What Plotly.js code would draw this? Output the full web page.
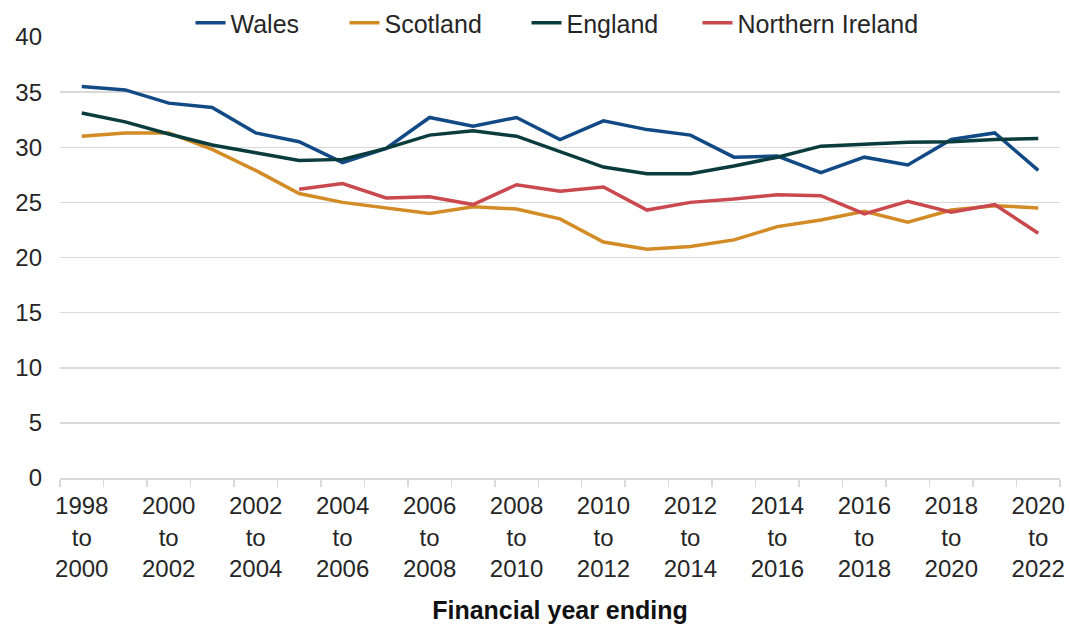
<!DOCTYPE html>
<html>
<head>
<meta charset="utf-8">
<script src="https://cdn.plot.ly/plotly-3.0.1.min.js"></script>
<style>
  html, body { margin: 0; padding: 0; background: #ffffff; }
  #chart { width: 1070px; height: 628px; }
</style>
</head>
<body>
<div id="chart"></div>
<script>
// Categories: financial year periods (start year, end year)
const startYears = [1998,1999,2000,2001,2002,2003,2004,2005,2006,2007,2008,2009,2010,2011,2012,2013,2014,2015,2016,2017,2018,2019,2020];
const endYears   = [2000,2001,2002,2003,2004,2005,2006,2007,2008,2009,2010,2011,2012,2013,2014,2015,2016,2017,2018,2019,2020,2021,2022];

const wales   = [35.5,35.2,34.0,33.6,31.3,30.5,28.6,29.9,32.7,31.9,32.7,30.7,32.4,31.6,31.1,29.1,29.2,27.7,29.1,28.4,30.7,31.3,27.9];
const scotland= [31.0,31.3,31.3,29.8,27.9,25.8,25.0,24.5,24.0,24.6,24.4,23.5,21.4,20.75,21.0,21.6,22.8,23.4,24.2,23.2,24.3,24.7,24.5];
const england = [33.1,32.3,31.2,30.2,29.5,28.8,28.9,29.9,31.1,31.5,31.0,29.6,28.2,27.6,27.6,28.3,29.1,30.1,30.3,30.45,30.5,30.7,30.8];
const nIreland= [null,null,null,null,null,26.2,26.7,25.4,25.5,24.8,26.6,26.0,26.4,24.3,25.0,25.3,25.7,25.6,23.95,25.1,24.1,24.8,22.2];

const seriesNames  = ["Wales","Scotland","England","Northern Ireland"];
const seriesValues = [wales, scotland, england, nIreland];
const seriesColors = ["#124a85","#d38b26","#0b3c3d","#c9494f"];

const xIdx = startYears.map((_, i) => i);
const tickIdx = xIdx.filter(i => i % 2 === 0);
const tickText = tickIdx.map(i => startYears[i] + "<br>to<br>" + endYears[i]);
const boundaries = xIdx.map(i => i - 0.5).concat([xIdx.length - 0.5]);

const legendIds = ["legend","legend2","legend3","legend4"];
const legendX   = [0.1305, 0.2845, 0.4665, 0.6375];

const font = "Liberation Sans, Arial, sans-serif";
const textColor = "#262626";

// Paper area spans from the top of the figure to the x axis; the plot (y axis)
// occupies the lower part of it, leaving a band for the legend row above.
const W = 1070, H = 628;
const marginB = 150, plotTopPx = 37;
const paperH = H - marginB;
const yDomainTop = (paperH - plotTopPx) / paperH;

const traces = seriesNames.map((name, k) => ({
  type: "scatter",
  mode: "lines",
  name: name,
  x: xIdx,
  y: seriesValues[k],
  line: { color: seriesColors[k], width: 3.5 },
  connectgaps: false,
  legend: legendIds[k],
  hoverinfo: "skip"
}));

const layout = {
  width: W,
  height: H,
  margin: { l: 60, r: 10, t: 0, b: marginB },
  paper_bgcolor: "#ffffff",
  plot_bgcolor: "#ffffff",
  font: { family: font, size: 24, color: textColor },
  showlegend: true,
  xaxis: {
    type: "linear",
    range: [-0.5, xIdx.length - 0.5],
    tickmode: "array",
    tickvals: tickIdx,
    ticktext: tickText,
    ticks: "",
    ticklabelstandoff: 6,
    showgrid: false,
    zeroline: false,
    showline: true,
    linecolor: "#d9d9d9",
    linewidth: 1.5,
    tickfont: { family: font, size: 24, color: textColor },
    minor: {
      tickmode: "array",
      tickvals: boundaries,
      ticks: "outside",
      ticklen: 7,
      tickwidth: 1.5,
      tickcolor: "#d9d9d9",
      showgrid: false
    },
    title: {
      text: "<b>Financial year ending</b>",
      font: { family: font, size: 25, color: "#111111" },
      standoff: 21
    },
    automargin: false,
    fixedrange: true
  },
  yaxis: {
    domain: [0, yDomainTop],
    range: [0, 40],
    tickmode: "linear",
    tick0: 0,
    dtick: 5,
    ticks: "",
    ticklabelstandoff: 17,
    showgrid: true,
    gridcolor: "#d9d9d9",
    gridwidth: 1.5,
    zeroline: false,
    showline: false,
    tickfont: { family: font, size: 24, color: textColor },
    automargin: false,
    fixedrange: true
  }
};

legendIds.forEach((id, k) => {
  layout[id] = {
    orientation: "h",
    x: legendX[k], xanchor: "left",
    y: 1, yanchor: "top",
    font: { family: font, size: 25, color: textColor },
    bgcolor: "rgba(0,0,0,0)",
    borderwidth: 0
  };
});

Plotly.newPlot("chart", traces, layout, { displayModeBar: false, staticPlot: true });
</script>
</body>
</html>
